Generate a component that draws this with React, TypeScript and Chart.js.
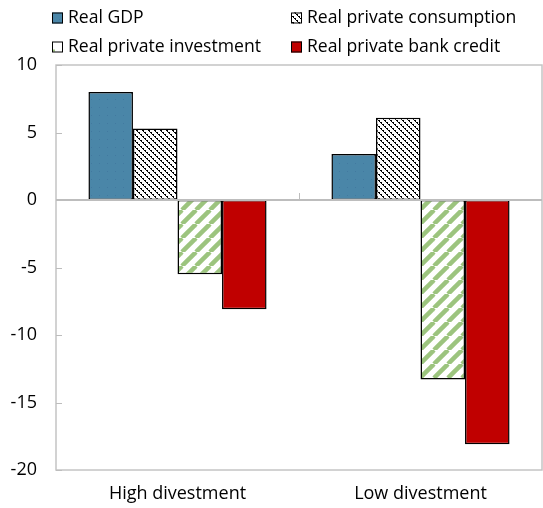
import React, { useEffect, useRef } from "react";
import { Chart, registerables } from "chart.js";
Chart.register(...registerables);

const categories = ["High divestment", "Low divestment"];
const seriesNames = [
  "Real GDP",
  "Real private consumption",
  "Real private investment",
  "Real private bank credit",
];
const realGDP = [8.0, 3.4];
const realConsumption = [5.3, 6.1];
const realInvestment = [-5.5, -13.3];
const realBankCredit = [-8.1, -18.1];
const yMin = -20;
const yMax = 10;
const yStep = 5;

const FONT = "'Open Sans', 'DejaVu Sans', sans-serif";

function makeGdpPattern(): CanvasPattern | string {
  const c = document.createElement("canvas");
  c.width = 8;
  c.height = 8;
  const g = c.getContext("2d");
  if (!g) return "#4A86A8";
  g.fillStyle = "#4A86A8";
  g.fillRect(0, 0, 8, 8);
  g.fillStyle = "#4279A0";
  g.fillRect(3, 3, 1, 1);
  return g.createPattern(c, "repeat") || "#4A86A8";
}

function makeHatchPattern(): CanvasPattern | string {
  const n = 6;
  const c = document.createElement("canvas");
  c.width = n;
  c.height = n;
  const g = c.getContext("2d");
  if (!g) return "#fff";
  g.fillStyle = "#ffffff";
  g.fillRect(0, 0, n, n);
  g.fillStyle = "#000000";
  for (let i = 0; i < n; i++) {
    g.fillRect(i, i, 1, 1);
    if (i % 2 === 0) g.fillRect((i + 1) % n, i, 1, 1);
  }
  return g.createPattern(c, "repeat") || "#fff";
}

function makeStripePattern(): CanvasPattern | string {
  const n = 14;
  const c = document.createElement("canvas");
  c.width = n;
  c.height = n;
  const g = c.getContext("2d");
  if (!g) return "#fff";
  g.fillStyle = "#ffffff";
  g.fillRect(0, 0, n, n);
  g.strokeStyle = "#9CC47E";
  g.lineWidth = 4.5;
  for (const off of [-n, 0, n]) {
    g.beginPath();
    g.moveTo(off, n);
    g.lineTo(off + n, 0);
    g.stroke();
  }
  return g.createPattern(c, "repeat") || "#fff";
}

const framePlugin = {
  id: "frame",
  afterDatasetsDraw(chart: any) {
    const { ctx, chartArea } = chart;
    const { left, right, top, bottom } = chartArea;
    const y = chart.scales.y;
    ctx.save();
    ctx.strokeStyle = "#C4C4C4";
    ctx.lineWidth = 1.5;
    ctx.strokeRect(left, top, right - left, bottom - top);
    ctx.strokeStyle = "#BDBDBD";
    ctx.lineWidth = 1;
    for (let v = yMin; v <= yMax; v += yStep) {
      const py = Math.round(y.getPixelForValue(v)) + 0.5;
      ctx.beginPath();
      ctx.moveTo(left, py);
      ctx.lineTo(left + 6, py);
      ctx.stroke();
    }
    const zy = y.getPixelForValue(0);
    ctx.strokeStyle = "#BDBDBD";
    ctx.lineWidth = 2;
    ctx.beginPath();
    ctx.moveTo(left, zy);
    ctx.lineTo(right, zy);
    ctx.stroke();
    const xs = chart.scales.x;
    const mid = (xs.getPixelForValue(0) + xs.getPixelForValue(1)) / 2;
    ctx.lineWidth = 1;
    ctx.beginPath();
    ctx.moveTo(Math.round(mid) + 0.5, zy);
    ctx.lineTo(Math.round(mid) + 0.5, zy - 7);
    ctx.stroke();
    ctx.restore();
  },
  afterDraw(chart: any) {
    const { ctx } = chart;
    const ds = chart.data.datasets;
    const colX = [52, 291];
    const rowY = [18, 47];
    ctx.save();
    ctx.font = `17.6px ${FONT}`;
    ctx.textBaseline = "middle";
    ctx.textAlign = "left";
    ds.forEach((d: any, i: number) => {
      const cx = colX[i % 2];
      const cy = rowY[Math.floor(i / 2)];
      const s = 11;
      ctx.fillStyle = i === 2 ? "#ffffff" : d.backgroundColor;
      ctx.fillRect(cx, cy - s / 2, s, s);
      if (i === 2) {
        ctx.fillStyle = "#9CC47E";
        ctx.fillRect(cx + 1, cy + s / 2 - 3, 2, 2);
      }
      ctx.strokeStyle = "#000";
      ctx.lineWidth = 1;
      ctx.strokeRect(cx + 0.5, cy - s / 2 + 0.5, s - 1, s - 1);
      ctx.fillStyle = "#000";
      ctx.fillText(d.label, cx + 16, cy);
    });
    ctx.restore();
  },
};

export default function App() {
  const ref = useRef<HTMLCanvasElement>(null);
  useEffect(() => {
    if (!ref.current) return;
    const chart = new Chart(ref.current, {
      type: "bar",
      data: {
        labels: categories,
        datasets: [
          { label: seriesNames[0], data: realGDP, backgroundColor: makeGdpPattern() as any },
          { label: seriesNames[1], data: realConsumption, backgroundColor: makeHatchPattern() as any },
          { label: seriesNames[2], data: realInvestment, backgroundColor: makeStripePattern() as any },
          { label: seriesNames[3], data: realBankCredit, backgroundColor: "#C00000" },
        ].map((d) => ({
          ...d,
          borderColor: "#000000",
          borderWidth: 1.5,
          borderSkipped: false,
          barPercentage: 1,
          categoryPercentage: 0.733,
        })),
      },
      options: {
        animation: false,
        responsive: true,
        maintainAspectRatio: false,
        layout: { padding: { top: 65, right: 1, left: 0, bottom: 0 } },
        plugins: { legend: { display: false }, tooltip: { enabled: false } },
        scales: {
          x: {
            grid: { display: false, drawTicks: false },
            border: { display: false },
            ticks: { color: "#000", font: { family: FONT, size: 18 }, padding: 13 },
            afterFit(scale: any) {
              scale.height = 38;
            },
          },
          y: {
            min: yMin,
            max: yMax,
            grid: { display: false, drawTicks: false },
            border: { display: false },
            ticks: { stepSize: yStep, color: "#000", font: { family: FONT, size: 18 }, padding: 19 },
            afterFit(scale: any) {
              scale.width = 56;
            },
          },
        },
      },
      plugins: [framePlugin],
    });
    return () => chart.destroy();
  }, []);
  return (
    <div style={{ position: "fixed", left: 0, top: 0, width: 543, height: 508, background: "#fff" }}>
      <canvas ref={ref} />
    </div>
  );
}
